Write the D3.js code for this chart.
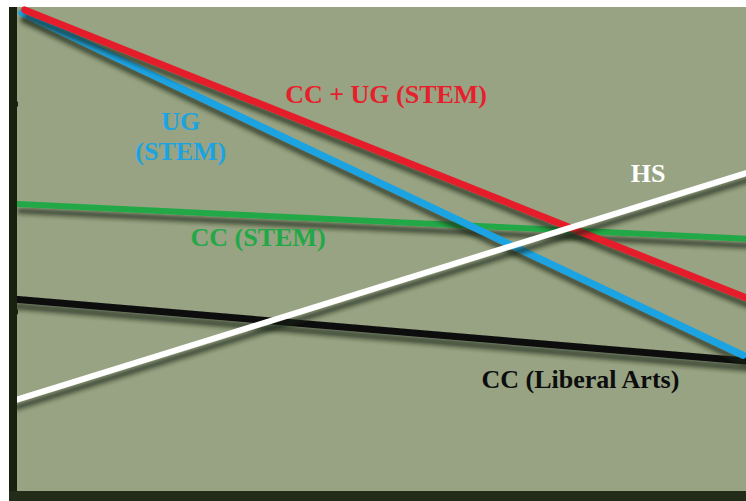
<!DOCTYPE html>
<html>
<head>
<meta charset="utf-8">
<script src="https://cdn.jsdelivr.net/npm/d3@7"></script>
<style>
  html, body { margin: 0; padding: 0; background: #ffffff; }
  svg { display: block; }
  text { font-family: "Liberation Serif", "Times New Roman", serif; font-weight: bold; }
</style>
</head>
<body>
<div id="chart"></div>
<script>
// ---- data (x: relative time 0-100, y: relative level 0-100) ----
const seriesNames = ["CC + UG (STEM)", "UG (STEM)", "CC (STEM)", "HS", "CC (Liberal Arts)"];
const seriesStartX = [2.0, 1.6, 1.1, 0.7, 0.7];
const seriesEndX   = [100, 99.6, 100, 100, 100];
const seriesStartY = [99.4, 98.8, 59.2, 18.6, 39.5];
const seriesEndY   = [39.8, 27.9, 52.0, 65.6, 26.7];
const yTicks = [80, 37];

const W = 746, H = 501;
const colors = ["#e51f2b", "#1ca3e2", "#22a846", "#ffffff", "#0d0d0d"];
const widths = [7, 7, 6, 6, 7];

const svg = d3.select("#chart").append("svg").attr("width", W).attr("height", H);

const defs = svg.append("defs");
const f = defs.append("filter").attr("id", "shadow")
  .attr("x", "-10%").attr("y", "-50%").attr("width", "120%").attr("height", "200%");
f.append("feGaussianBlur").attr("in", "SourceAlpha").attr("stdDeviation", 2.2).attr("result", "b");
f.append("feOffset").attr("in", "b").attr("dx", 2).attr("dy", 7).attr("result", "o");
f.append("feFlood").attr("flood-color", "#1a2412").attr("flood-opacity", 0.65).attr("result", "c");
f.append("feComposite").attr("in", "c").attr("in2", "o").attr("operator", "in").attr("result", "s");
const m = f.append("feMerge");
m.append("feMergeNode").attr("in", "s");
m.append("feMergeNode").attr("in", "SourceGraphic");

const x = d3.scaleLinear().domain([0, 100]).range([10, 746]);
const y = d3.scaleLinear().domain([0, 100]).range([490, 7]);

// plot background
svg.append("rect").attr("x", 9).attr("y", 7).attr("width", W - 9).attr("height", H - 7)
  .attr("fill", "#97a383");

// series lines
const lines = seriesNames.map((n, i) => ({
  name: n,
  pts: [[seriesStartX[i], seriesStartY[i]], [seriesEndX[i], seriesEndY[i]]],
  color: colors[i], width: widths[i]
}));
const lineGen = d3.line().x(d => x(d[0])).y(d => y(d[1]));
// draw order: black, green, blue, red, white on top
const order = [4, 2, 1, 0, 3];
svg.append("g").selectAll("path").data(order.map(i => lines[i])).join("path")
  .attr("d", d => lineGen(d.pts))
  .attr("fill", "none")
  .attr("stroke", d => d.color)
  .attr("stroke-width", d => d.width)
  .attr("stroke-linecap", "round")
  .attr("filter", "url(#shadow)");

// axes
const yAxis = d3.axisLeft(y).tickValues(yTicks).tickSize(-5).tickFormat("");
const gy = svg.append("g").attr("transform", "translate(13,0)").call(yAxis);
gy.select(".domain").remove();
gy.selectAll(".tick line").attr("stroke", "#1a2212").attr("stroke-width", 5);
svg.append("rect").attr("x", 9).attr("y", 7).attr("width", 8).attr("height", H - 7).attr("fill", "#18200f");
svg.append("rect").attr("x", 9).attr("y", 491).attr("width", W - 9).attr("height", 10).attr("fill", "#222c18");

// labels
const labels = [
  { t: ["CC + UG (STEM)"], x: 51.1, y: 80.1, c: colors[0] },
  { t: ["UG", "(STEM)"], x: 23.2, y: 74.5, c: colors[1] },
  { t: ["CC (STEM)"], x: 33.7, y: 50.5, c: colors[2] },
  { t: ["HS"], x: 86.7, y: 63.8, c: colors[3] },
  { t: ["CC (Liberal Arts)"], x: 77.5, y: 21.1, c: colors[4] }
];
labels.forEach(l => {
  const tx = svg.append("text")
    .attr("x", x(l.x)).attr("y", y(l.y))
    .attr("text-anchor", "middle")
    .attr("font-size", 26)
    .attr("fill", l.c);
  l.t.forEach((s, k) => tx.append("tspan").attr("x", x(l.x)).attr("dy", k === 0 ? 0 : 30).text(s));
});
</script>
</body>
</html>
